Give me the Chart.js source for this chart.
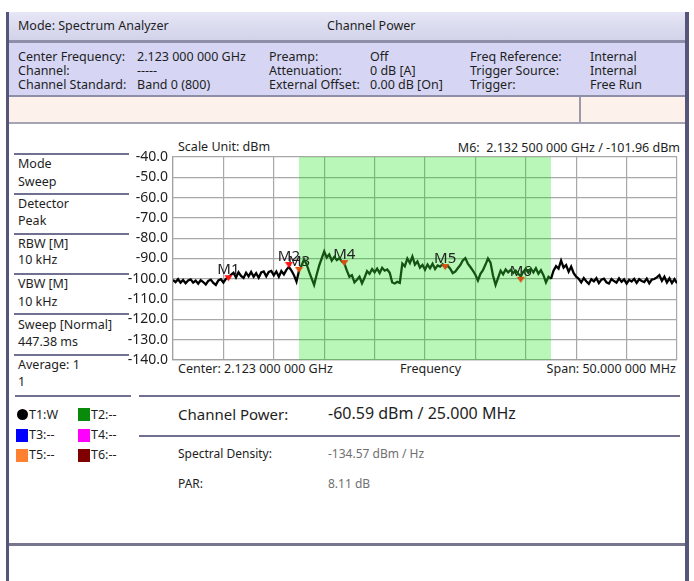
<!DOCTYPE html>
<html>
<head>
<meta charset="utf-8">
<script src="https://cdn.jsdelivr.net/npm/chart.js@4.4.0/dist/chart.umd.min.js"></script>
<style>
body { margin:0; width:694px; height:581px; background:#fff; position:relative; overflow:hidden;
       font-family:'Noto Sans', sans-serif; color:#1e1e1e; font-size:12.5px; }
.t { position:absolute; white-space:nowrap; line-height:14px; }
.box { position:absolute; }
.hl { position:absolute; height:1.5px; background:#707090; }
.sq { position:absolute; width:12px; height:13px; }
</style>
</head>
<body>
<!-- frame -->
<div class="box" style="left:6px;top:12px;width:3px;height:569px;background:#56567a"></div>
<div class="box" style="left:685px;top:12px;width:4px;height:569px;background:#56567a"></div>
<div class="box" style="left:9px;top:12px;width:676px;height:28px;background:linear-gradient(#e6e6f6,#d2d2ea)"></div>
<div class="box" style="left:9px;top:40px;width:676px;height:3px;background:#8e8ea8"></div>
<div class="box" style="left:9px;top:43px;width:676px;height:52px;background:#d6d6f4"></div>
<div class="box" style="left:9px;top:95px;width:676px;height:2px;background:#8e8ea8"></div>
<div class="box" style="left:9px;top:97px;width:676px;height:25px;background:#fdf1ec"></div>
<div class="box" style="left:579px;top:97px;width:2px;height:25px;background:#9a9aa8"></div>
<div class="box" style="left:9px;top:122px;width:676px;height:2px;background:#a4a4b4"></div>
<div class="box" style="left:9px;top:543px;width:676px;height:3px;background:#76768e"></div>

<!-- header -->
<div class="t" style="left:18px;top:19px">Mode: Spectrum Analyzer</div>
<div class="t" style="left:327px;top:19px">Channel Power</div>

<div class="t" style="left:18px;top:50px">Center Frequency:</div>
<div class="t" style="left:18px;top:64px">Channel:</div>
<div class="t" style="left:18px;top:78px">Channel Standard:</div>
<div class="t" style="left:137px;top:50px">2.123 000 000 GHz</div>
<div class="t" style="left:137px;top:64px">-----</div>
<div class="t" style="left:137px;top:78px">Band 0 (800)</div>
<div class="t" style="left:269px;top:50px">Preamp:</div>
<div class="t" style="left:269px;top:64px">Attenuation:</div>
<div class="t" style="left:269px;top:78px">External Offset:</div>
<div class="t" style="left:370px;top:50px">Off</div>
<div class="t" style="left:370px;top:64px">0 dB [A]</div>
<div class="t" style="left:370px;top:78px">0.00 dB [On]</div>
<div class="t" style="left:470px;top:50px">Freq Reference:</div>
<div class="t" style="left:470px;top:64px">Trigger Source:</div>
<div class="t" style="left:470px;top:78px">Trigger:</div>
<div class="t" style="left:590px;top:50px">Internal</div>
<div class="t" style="left:590px;top:64px">Internal</div>
<div class="t" style="left:590px;top:78px">Free Run</div>

<!-- left settings panel -->
<div class="hl" style="left:14px;top:153px;width:115px"></div>
<div class="t" style="left:18px;top:157px">Mode</div>
<div class="t" style="left:18px;top:175px">Sweep</div>
<div class="hl" style="left:14px;top:193px;width:115px"></div>
<div class="t" style="left:18px;top:197px">Detector</div>
<div class="t" style="left:18px;top:214px">Peak</div>
<div class="hl" style="left:14px;top:233px;width:115px"></div>
<div class="t" style="left:18px;top:237px">RBW [M]</div>
<div class="t" style="left:18px;top:253px">10 kHz</div>
<div class="hl" style="left:14px;top:273px;width:115px"></div>
<div class="t" style="left:18px;top:277px">VBW [M]</div>
<div class="t" style="left:18px;top:295px">10 kHz</div>
<div class="hl" style="left:14px;top:313px;width:115px"></div>
<div class="t" style="left:18px;top:318px">Sweep [Normal]</div>
<div class="t" style="left:18px;top:335px">447.38 ms</div>
<div class="hl" style="left:14px;top:354px;width:115px"></div>
<div class="t" style="left:18px;top:358px">Average: 1</div>
<div class="t" style="left:18px;top:375px">1</div>

<!-- chart texts -->
<div class="t" style="left:178px;top:140px">Scale Unit: dBm</div>
<div class="t" style="right:14px;top:141px">M6:&nbsp; 2.132 500 000 GHz / -101.96 dBm</div>
<div class="t" style="left:178px;top:362px">Center: 2.123 000 000 GHz</div>
<div class="t" style="left:400px;top:362px">Frequency</div>
<div class="t" style="right:18px;top:362px">Span: 50.000 000 MHz</div>

<div class="box" style="left:120px;top:140px;width:570px;height:235px">
  <canvas id="grafico" width="570" height="235"></canvas>
</div>

<!-- bottom: trace legend + results -->
<div class="hl" style="left:15px;top:395px;width:116px"></div>
<div class="hl" style="left:139px;top:395px;width:541px"></div>
<div class="box" style="left:17px;top:409px;width:11px;height:11px;border-radius:50%;background:#000"></div>
<div class="t" style="left:29px;top:408px">T1:W</div>
<div class="sq" style="left:78px;top:408px;background:#0a8a0a"></div>
<div class="t" style="left:91px;top:408px">T2:--</div>
<div class="sq" style="left:16px;top:429px;background:#0000ff"></div>
<div class="t" style="left:29px;top:428px">T3:--</div>
<div class="sq" style="left:78px;top:429px;background:#ff00ff"></div>
<div class="t" style="left:91px;top:428px">T4:--</div>
<div class="sq" style="left:16px;top:449px;background:#ff8030"></div>
<div class="t" style="left:29px;top:448px">T5:--</div>
<div class="sq" style="left:78px;top:449px;background:#800000"></div>
<div class="t" style="left:91px;top:448px">T6:--</div>

<div class="t" style="left:178px;top:405px;font-size:15px;line-height:18px">Channel Power:</div>
<div class="t" style="left:328px;top:404px;font-size:16px;line-height:19px">-60.59 dBm / 25.000 MHz</div>
<div class="hl" style="left:139px;top:435px;width:541px"></div>
<div class="t" style="left:178px;top:447px;font-size:12px">Spectral Density:</div>
<div class="t" style="left:328px;top:447px;font-size:12px;color:#707070">-134.57 dBm / Hz</div>
<div class="t" style="left:178px;top:477px;font-size:12px">PAR:</div>
<div class="t" style="left:328px;top:477px;font-size:12px;color:#707070">8.11 dB</div>

<script>
// sweep setup
const centerGHz = 2.123;
const spanMHz = 50;
const sweepStepMHz = 0.25;
const channelBwMHz = 25;
const yTicks = [-40, -50, -60, -70, -80, -90, -100, -110, -120, -130, -140];

// trace 1 (peak, dBm), one value each 0.25 MHz from 2.098 GHz
const traceDbm = [
    -100.6, -101.6, -100.2, -101.9, -100.6, -102.2, -100.8, -100.3, -101.9, -100.9,
    -102.4, -100.7, -101.6, -102.8, -101.0, -100.4, -102.0, -103.0, -100.8, -100.2,
    -101.8, -100.0, -99.4, -98.0, -97.0, -99.3, -96.8, -98.6, -99.6, -97.0,
    -98.8, -96.6, -99.0, -97.2, -99.5, -96.9, -96.4, -98.8, -96.6, -96.1,
    -98.3, -96.4, -99.0, -96.2, -97.8, -95.6, -94.1, -95.9, -98.2, -101.4,
    -96.0, -93.5, -90.5, -92.8, -96.5, -99.8, -103.0, -98.0, -93.5, -90.0,
    -86.5, -89.5, -88.0, -91.0, -89.2, -90.8, -89.8, -91.5, -92.4, -96.0,
    -99.0, -98.2, -101.8, -100.5, -99.0, -102.2, -99.5, -96.2, -97.5, -95.2,
    -96.8, -95.0, -97.2, -94.6, -96.0, -95.4, -97.0, -101.8, -102.3, -101.5,
    -102.0, -92.5, -93.8, -90.0, -92.2, -89.0, -93.0, -91.5, -94.5, -93.2,
    -95.5, -93.0, -94.8, -92.6, -95.2, -93.4, -94.0, -92.8, -94.3, -93.6,
    -95.0, -97.2, -96.5, -94.8, -93.2, -91.0, -89.8, -92.5, -94.2, -96.0,
    -98.0, -100.8, -97.5, -95.8, -93.0, -90.0, -92.0, -98.5, -103.0, -99.5,
    -96.0, -97.8, -95.4, -96.8, -95.6, -97.2, -96.0, -97.5, -98.8, -96.5,
    -95.2, -97.0, -95.0, -96.8, -94.8, -97.5, -95.8, -98.2, -101.8, -99.0,
    -100.0, -96.0, -93.8, -95.0, -91.0, -94.5, -93.2, -96.5, -94.0, -97.2,
    -99.0, -100.0, -101.8, -99.6, -101.2, -102.5, -100.2, -101.3, -99.7, -102.1,
    -100.4, -99.9, -101.7, -102.3, -100.1, -101.1, -101.9, -99.8, -101.5, -100.3,
    -102.4, -100.5, -101.3, -100.0, -102.0, -100.2, -101.1, -101.6, -99.9, -102.2,
    -100.4, -100.1, -99.3, -98.2, -101.0, -99.0, -101.8, -99.8, -102.1, -100.2,
    -102.2
];

// markers
const markerNames = ['M1', 'M2', 'M3', 'M4', 'M5', 'M6'];
const markerGHz = [2.1035, 2.1095, 2.1105, 2.1150, 2.1250, 2.1325];
const markerDbm = [-101.2, -94.7, -97.1, -93.7, -95.7, -101.96];
const markerColors = ['#ff1414', '#ff1414', '#e0520f', '#d8500f', '#d8500f', '#d8500f'];

const toOffsetMHz = (ghz) => (ghz - centerGHz) * 1000;

const tracePoints = traceDbm.map((v, i) => ({ x: -spanMHz / 2 + i * sweepStepMHz, y: v }));
const markerPoints = markerGHz.map((f, i) => ({ x: toOffsetMHz(f), y: markerDbm[i] }));

// triangle with its tip at the centre of the image, so the tip sits on the value
function markerIcon(cor) {
    const c = document.createElement('canvas');
    c.width = 9;
    c.height = 14;
    const g = c.getContext('2d');
    g.fillStyle = cor;
    g.beginPath();
    g.moveTo(0.5, 1);
    g.lineTo(8.5, 1);
    g.lineTo(4.5, 7);
    g.closePath();
    g.fill();
    return c;
}

const canal = {
    id: 'canal',
    beforeDatasetsDraw(chart) {
        const { ctx, chartArea, scales } = chart;
        const x0 = scales.x.getPixelForValue(-channelBwMHz / 2);
        const x1 = scales.x.getPixelForValue(channelBwMHz / 2);
        ctx.save();
        ctx.fillStyle = 'rgba(0, 225, 0, 0.28)';
        ctx.fillRect(x0, chartArea.top, x1 - x0, chartArea.bottom - chartArea.top);
        ctx.font = '15px "Noto Sans"';
        ctx.fillStyle = '#222';
        ctx.textAlign = 'center';
        ctx.textBaseline = 'alphabetic';
        markerPoints.forEach((p, i) => {
            ctx.fillText(markerNames[i], scales.x.getPixelForValue(p.x), scales.y.getPixelForValue(p.y) - 7);
        });
        ctx.restore();
    }
};

const dentro = (ctx) => ctx.p0.parsed.x >= -channelBwMHz / 2 && ctx.p1.parsed.x <= channelBwMHz / 2;

new Chart(document.getElementById('grafico'), {
    type: 'line',
    data: {
        datasets: [
            {
                data: markerPoints,
                showLine: false,
                pointStyle: markerColors.map(markerIcon),
                pointRadius: 4,
            },
            {
                data: tracePoints,
                borderWidth: 2.3,
                pointRadius: 0,
                tension: 0,
                borderColor: '#000',
                segment: { borderColor: (ctx) => dentro(ctx) ? '#145314' : '#000' },
            },
        ]
    },
    options: {
        responsive: false,
        animation: false,
        devicePixelRatio: 1,
        events: [],
        layout: { padding: { top: 17, right: 13, bottom: 15, left: 0 } },
        plugins: { legend: { display: false }, tooltip: { enabled: false } },
        scales: {
            x: {
                type: 'linear',
                min: -spanMHz / 2,
                max: spanMHz / 2,
                ticks: { display: false, stepSize: 5 },
                grid: { color: '#a8a8a8', lineWidth: 1.2, drawTicks: false },
                border: { color: '#a0a0a0', width: 1.2 },
                afterFit: (s) => { s.height = 0; },
            },
            y: {
                min: -140,
                max: -40,
                afterBuildTicks: (s) => { s.ticks = yTicks.map((v) => ({ value: v })); },
                ticks: {
                    padding: 5,
                    color: '#1e1e1e',
                    font: { family: 'Noto Sans', size: 14 },
                    callback: (v) => v.toFixed(1),
                },
                grid: { color: '#a8a8a8', lineWidth: 1.2, drawTicks: false },
                border: { color: '#a0a0a0', width: 1.2 },
                afterFit: (s) => { s.width = 53; },
            },
        },
    },
    plugins: [canal],
});
</script>
</body>
</html>
